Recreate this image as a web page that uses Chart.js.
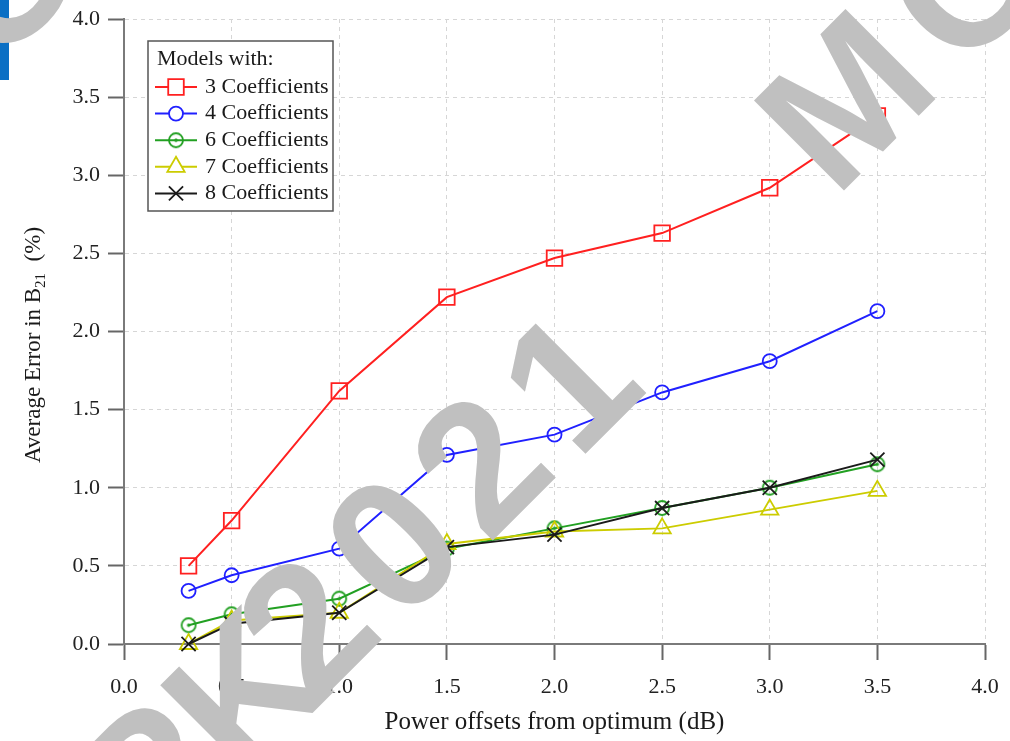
<!DOCTYPE html>
<html>
<head>
<meta charset="utf-8">
<script src="https://cdn.jsdelivr.net/npm/chart.js@4.4.0/dist/chart.umd.min.js"></script>
<style>
  html, body { margin: 0; padding: 0; background: #fff; }
  #wrap { width: 1010px; height: 741px; }
</style>
</head>
<body>
<div id="wrap"><canvas id="chart"></canvas></div>
<script>
// power offsets (dB) on the x axis
const offsets = [0.3, 0.5, 1.0, 1.5, 2.0, 2.5, 3.0, 3.5];

// average error in B21 (%) for each model size
const coef3 = [0.50, 0.79, 1.62, 2.22, 2.47, 2.63, 2.92, 3.38];
const coef4 = [0.34, 0.44, 0.61, 1.21, 1.34, 1.61, 1.81, 2.13];
const coef6 = [0.12, 0.19, 0.29, 0.61, 0.74, 0.87, 1.00, 1.15];
const coef7 = [0.00, 0.15, 0.20, 0.64, 0.72, 0.74, 0.86, 0.98];
const coef8 = [0.00, 0.13, 0.20, 0.62, 0.70, 0.87, 1.00, 1.18];

const seriesNames = ['3 Coefficients', '4 Coefficients', '6 Coefficients', '7 Coefficients', '8 Coefficients'];
const xTicks = [0.0, 0.5, 1.0, 1.5, 2.0, 2.5, 3.0, 3.5, 4.0];
const yTicks = [0.0, 0.5, 1.0, 1.5, 2.0, 2.5, 3.0, 3.5, 4.0];

const SERIF = '"Liberation Serif", "Times New Roman", serif';
Chart.defaults.font.family = SERIF;
Chart.defaults.color = '#1a1a1a';

// circle with a dot in the middle (6 coefficients marker)
function ringDot(color) {
  const c = document.createElement('canvas');
  c.width = 20; c.height = 20;
  const g = c.getContext('2d');
  g.strokeStyle = color;
  g.lineWidth = 1.8;
  g.beginPath(); g.arc(10, 10, 7, 0, Math.PI * 2); g.stroke();
  g.fillStyle = color;
  g.beginPath(); g.arc(10, 10, 1.7, 0, Math.PI * 2); g.fill();
  return c;
}
const greenMarker = ringDot('#22a022');

function series(values) {
  return offsets.map((x, i) => ({ x: x, y: values[i] }));
}

const datasets = [
  { label: seriesNames[0], data: series(coef3), borderColor: '#ff2020', pointStyle: 'rect', pointRadius: 11, order: 5 },
  { label: seriesNames[1], data: series(coef4), borderColor: '#2020ff', pointStyle: 'circle', pointRadius: 7, order: 4 },
  { label: seriesNames[2], data: series(coef6), borderColor: '#22a022', pointStyle: greenMarker, pointRadius: 7, order: 3 },
  { label: seriesNames[3], data: series(coef7), borderColor: '#cccc00', pointStyle: 'triangle', pointRadius: 10, order: 2 },
  { label: seriesNames[4], data: series(coef8), borderColor: '#1a1a1a', pointStyle: 'crossRot', pointRadius: 10, order: 1 }
].map(d => Object.assign({
  backgroundColor: 'rgba(255,255,255,0)',
  pointBackgroundColor: 'rgba(255,255,255,0)',
  pointBorderColor: d.borderColor,
  borderWidth: 2,
  pointBorderWidth: 1.8,
  tension: 0,
  clip: false
}, d));

// legend box drawn inside the plot, like the original figure
const legendBox = {
  id: 'legendBox',
  afterDatasetsDraw(chart) {
    const ctx = chart.ctx;
    const left = 148, top = 41, w = 185, h = 170;
    ctx.save();
    ctx.fillStyle = '#fff';
    ctx.fillRect(left, top, w, h);
    ctx.strokeStyle = '#555';
    ctx.lineWidth = 1.5;
    ctx.strokeRect(left, top, w, h);
    ctx.font = '22px ' + SERIF;
    ctx.fillStyle = '#1a1a1a';
    ctx.textBaseline = 'middle';
    ctx.fillText('Models with:', 157, 59);
    chart.data.datasets.forEach((ds, i) => {
      const y = 87 + i * 26.6;
      ctx.strokeStyle = ds.borderColor;
      ctx.lineWidth = 2;
      ctx.beginPath(); ctx.moveTo(155, y); ctx.lineTo(197, y); ctx.stroke();
      if (typeof ds.pointStyle === 'string') {
        ctx.fillStyle = '#fff';
        ctx.lineWidth = 1.8;
        Chart.helpers.drawPoint(ctx, {
          pointStyle: ds.pointStyle, radius: ds.pointRadius, rotation: 0,
          borderWidth: 1.8
        }, 176, y);
      } else {
        ctx.drawImage(ds.pointStyle, 166, y - 10);
      }
      ctx.fillStyle = '#1a1a1a';
      ctx.fillText(ds.label, 205, y);
    });
    ctx.restore();
  }
};

// y axis title with a real subscript
const yTitle = {
  id: 'yTitle',
  afterDraw(chart) {
    const ctx = chart.ctx;
    const big = '23px ' + SERIF, small = '15px ' + SERIF;
    const a = 'Average Error in B', s = '21', b = '  (%)';
    ctx.save();
    ctx.font = big; const wa = ctx.measureText(a).width, wb = ctx.measureText(b).width;
    ctx.font = small; const ws = ctx.measureText(s).width;
    const total = wa + ws + wb;
    ctx.translate(40, 345);
    ctx.rotate(-Math.PI / 2);
    ctx.fillStyle = '#1a1a1a';
    ctx.textBaseline = 'alphabetic';
    let x = -total / 2;
    ctx.font = big; ctx.fillText(a, x, 0); x += wa;
    ctx.font = small; ctx.fillText(s, x, 5); x += ws;
    ctx.font = big; ctx.fillText(b, x, 0);
    ctx.restore();
  }
};

// grey watermark printed over the figure
const watermark = {
  id: 'watermark',
  afterDraw(chart) {
    const ctx = chart.ctx;
    ctx.save();
    ctx.fillStyle = '#0a6fc4';
    ctx.fillRect(0, 0, 9, 80);
    ctx.fillStyle = '#c0c0c0';
    ctx.font = 'bold 185px "Liberation Sans", Arial, sans-serif';
    ctx.textAlign = 'center';
    ctx.textBaseline = 'alphabetic';
    const glyphs = [
      ['O', 0, -26], ['R', 146, 776], ['K', 242, 690], ['2', 304, 624], ['0', 391, 543],
      ['2', 478, 462], ['1', 567, 379], ['M', 843, 98], ['O', 965, -22]
    ];
    glyphs.forEach(([ch, x, y]) => {
      ctx.save();
      ctx.translate(x, y);
      ctx.rotate(-Math.PI / 4);
      ctx.fillText(ch, 0, 66);
      ctx.restore();
    });
    ctx.restore();
  }
};

function axis(ticks, pad, extra) {
  return Object.assign({
    type: 'linear',
    min: 0,
    max: 4,
    afterBuildTicks: s => { s.ticks = ticks.map(v => ({ value: v })); },
    ticks: {
      callback: v => v.toFixed(1),
      font: { size: 22 },
      color: '#222',
      padding: pad
    },
    grid: {
      color: '#d6d6d6',
      lineWidth: 1,
      tickColor: '#666',
      tickWidth: 2,
      tickLength: 16
    },
    border: { color: '#7a7a7a', width: 2, dash: [4, 4] }
  }, extra);
}

new Chart(document.getElementById('chart'), {
  type: 'line',
  data: { datasets: datasets },
  options: {
    responsive: true,
    maintainAspectRatio: false,
    animation: false,
    layout: { padding: { top: 19, right: 25, left: 0, bottom: 0 } },
    plugins: {
      legend: { display: false },
      tooltip: { enabled: false }
    },
    scales: {
      x: axis(xTicks, 14, {
        position: 'bottom',
        afterFit: s => { s.height = 97; s.paddingLeft = 0; s.paddingRight = 0; },
        title: {
          display: true,
          text: 'Power offsets from optimum (dB)',
          font: { size: 25 },
          color: '#1a1a1a',
          padding: { top: 0, bottom: 4 }
        }
      }),
      y: axis(yTicks, 8, {
        position: 'left',
        afterFit: s => { s.width = 124; s.paddingTop = 0; s.paddingBottom = 0; }
      })
    }
  },
  plugins: [legendBox, yTitle, watermark]
});
</script>
</body>
</html>
